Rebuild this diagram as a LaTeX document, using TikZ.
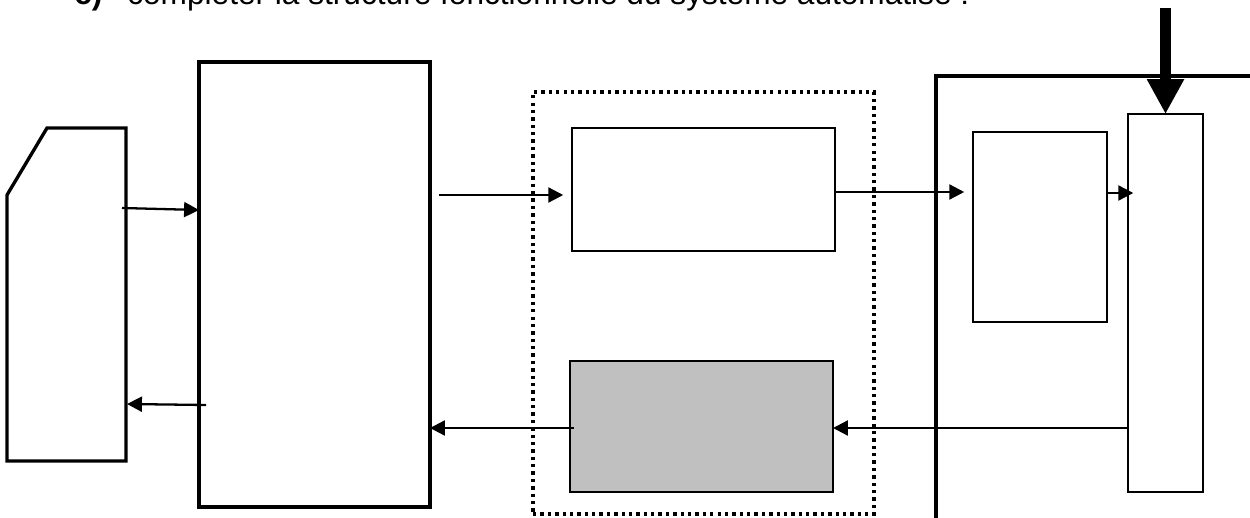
\documentclass[tikz,border=0pt]{standalone}
\usepackage{fontspec}
\setmainfont{Liberation Sans}
\usetikzlibrary{arrows.meta}
\definecolor{gris}{HTML}{C0C0C0}

\begin{document}
\begin{tikzpicture}[x=0.02cm, y=-0.02cm,
    bloc/.style={draw, line width=1.1pt, inner sep=0pt, outer sep=0pt},
    cadre/.style={draw, line width=2pt, inner sep=0pt, outer sep=0pt},
    texte/.style={font=\fontsize{18}{20}\selectfont, anchor=base west, inner sep=0pt},
    fleche/.style={line width=1.3pt, -{Triangle[length=8.5pt, width=8.5pt]}}]
    \useasboundingbox (0,0) rectangle (1250,517);
    \clip (0,0) rectangle (1250,517);

    \node[texte, font=\fontsize{18}{20}\selectfont\bfseries] (num) at (74,4.5) {c)};
    \node[texte] (titre) at (127,4.5) {compléter la structure fonctionnelle du système automatisé :};

    % pupitre
    \draw[line width=1.9pt] (7,195) -- (47,128) -- (126,128) -- (126,461) -- (7,461) -- cycle;
    \coordinate (pup1) at (122,208);
    \coordinate (pup2) at (127,404);

    \node[cadre, minimum width=4.62cm, minimum height=8.9cm] (commande) at (314.5,284.5) {};
    \node[draw, line width=1.8pt, dash pattern=on 1.9pt off 2.3pt, minimum width=6.82cm, minimum height=8.44cm] (interface) at (703.5,303) {};
    \node[bloc, minimum width=5.26cm, minimum height=2.46cm] (preact) at (703.5,189.5) {};
    \node[bloc, fill=gris, minimum width=5.26cm, minimum height=2.62cm] (capteur) at (701.5,426.5) {};

    % partie operative
    \draw[line width=2pt] (1260,76) -- (936,76) -- (936,530);
    \node[bloc, minimum width=2.68cm, minimum height=3.8cm] (act) at (1040,227) {};
    \node[bloc, minimum width=1.5cm, minimum height=7.56cm] (eff) at (1165.5,303) {};
    \coordinate (mo) at (1165.5,8);

    \draw[line width=6.8pt, -{Triangle[length=19.8pt, width=19.8pt]}] (mo) -- (eff.north);

    \draw[fleche] (pup1) -- (commande.west |- 0,210);
    \draw[fleche] ([xshift=5]commande.east |- 0,195) -- ([xshift=-5]preact.west |- 0,195);
    \draw[fleche] (preact.east |- 0,192) -- ([xshift=-5]act.west |- 0,192);
    \draw[fleche] (act.east |- 0,193) -- ([xshift=3]eff.west |- 0,193);
    \draw[fleche] (eff.west |- 0,428) -- (capteur.east |- 0,428);
    \draw[fleche] ([xshift=2]capteur.west |- 0,428) -- (commande.east |- 0,428);
    \draw[fleche] ([xshift=4]commande.west |- 0,405) -- (pup2);
\end{tikzpicture}
\end{document}
